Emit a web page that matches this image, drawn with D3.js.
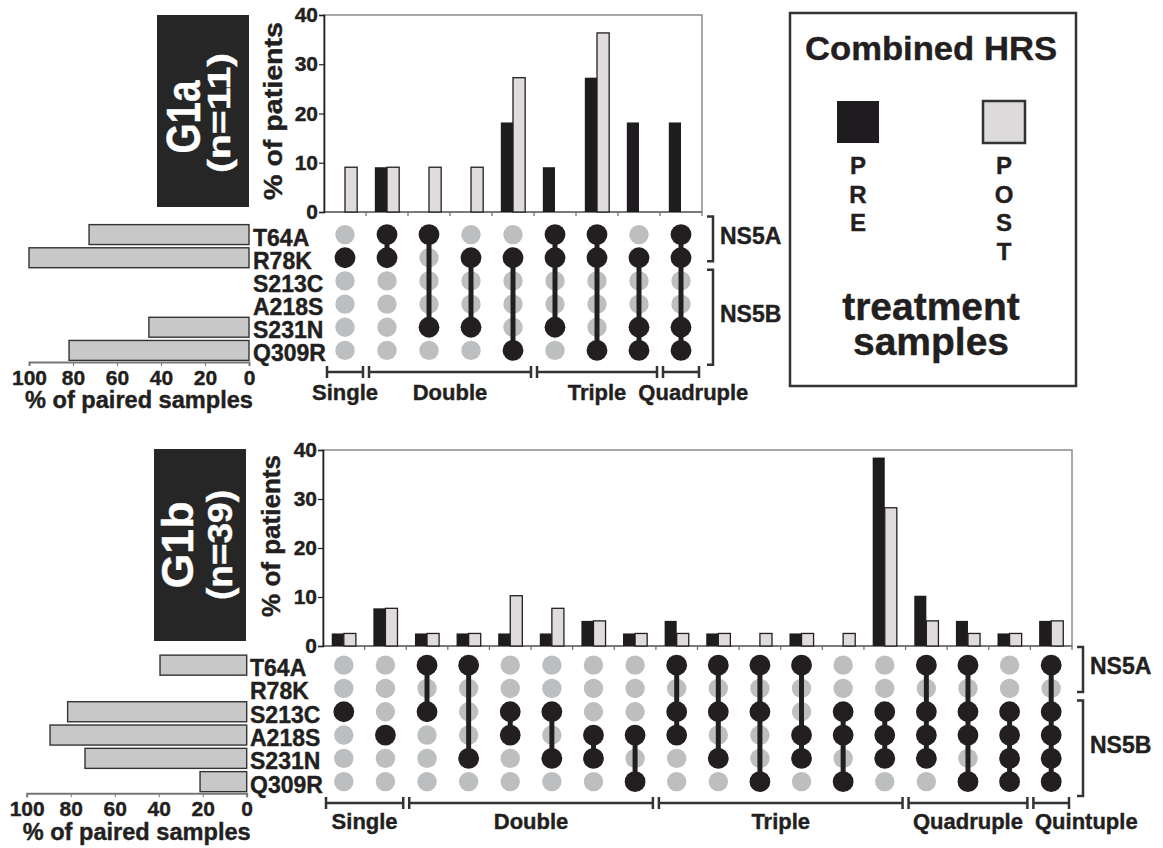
<!DOCTYPE html>
<html>
<head>
<meta charset="utf-8">
<script src="https://cdn.jsdelivr.net/npm/d3@7"></script>
<style>
body { margin: 0; background: #fff; }
text { font-family: "Liberation Sans", Arial, sans-serif; font-weight: bold; fill: #231f20; stroke: #231f20; stroke-width: 0.4px; }
</style>
</head>
<body>
<svg id="chart" width="1163" height="848"></svg>
<script>
// mutations, top to bottom in the matrix
const mutations = ["T64A", "R78K", "S213C", "A218S", "S231N", "Q309R"];
const groupNames = ["Single", "Double", "Triple", "Quadruple", "Quintuple"];
const regions = [
    {name: "NS5A", rows: ["T64A", "R78K"]},
    {name: "NS5B", rows: ["S213C", "A218S", "S231N", "Q309R"]}
];
const yTicks = [0, 10, 20, 30, 40];
const pairedTicks = [0, 20, 40, 60, 80, 100];

// G1a (n=11): % of patients per combination, pre / post treatment
const g1aSets = [
    ["R78K"],
    ["T64A", "R78K"], ["T64A", "S231N"], ["R78K", "S231N"], ["R78K", "Q309R"],
    ["T64A", "R78K", "S231N"], ["T64A", "R78K", "Q309R"], ["R78K", "S231N", "Q309R"],
    ["T64A", "R78K", "S231N", "Q309R"]
];
const g1aPre  = [0, 9.09, 0, 0, 18.18, 9.09, 27.27, 18.18, 18.18];
const g1aPost = [9.09, 9.09, 9.09, 9.09, 27.27, 0, 36.36, 0, 0];
const g1aPaired = [72.7, 100, 0, 0, 45.5, 81.8];

// G1b (n=39)
const g1bSets = [
    ["S213C"], ["A218S"],
    ["T64A", "S213C"], ["T64A", "S231N"], ["S213C", "A218S"], ["S213C", "S231N"], ["A218S", "S231N"], ["A218S", "Q309R"],
    ["T64A", "S213C", "A218S"], ["T64A", "S213C", "S231N"], ["T64A", "S213C", "Q309R"],
    ["T64A", "A218S", "S231N"], ["S213C", "A218S", "Q309R"], ["S213C", "A218S", "S231N"],
    ["T64A", "S213C", "A218S", "S231N"], ["T64A", "S213C", "A218S", "Q309R"], ["S213C", "A218S", "S231N", "Q309R"],
    ["T64A", "S213C", "A218S", "S231N", "Q309R"]
];
const g1bPre  = [2.56, 7.69, 2.56, 2.56, 2.56, 2.56, 5.13, 2.56, 5.13, 2.56, 0, 2.56, 0, 38.46, 10.26, 5.13, 2.56, 5.13];
const g1bPost = [2.56, 7.69, 2.56, 2.56, 10.26, 7.69, 5.13, 2.56, 2.56, 2.56, 2.56, 2.56, 2.56, 28.21, 5.13, 2.56, 2.56, 5.13];
const g1bPaired = [39.4, 0, 81.4, 89.4, 73.5, 21.2];

const dark = "#231f20", postFill = "#e0dcdc", dotGray = "#bdbec0", pairedFill = "#c8c8c8";

const svg = d3.select("#chart");

const panels = [
    {
        title: "G1a", n: "(n=11)", sets: g1aSets, pre: g1aPre, post: g1aPost, paired: g1aPaired,
        plot: {left: 324, right: 702, top: 15, bottom: 212},
        rows: [223, 362], pairedRange: [249, 29], labelX: 253,
        bracketY: 372, groupLabelY: 400, pairedTitleY: 408,
        box: {x: 157, y: 15, w: 92, h: 192},
        titleFont: 49, titleX: 200, titleLen: 73, titleY: 117,
        nFont: 31, nX: 230, nLen: 120, nY: 113,
        yLabelX: 282, yLabelY: 111, yLabelLen: 178
    },
    {
        title: "G1b", n: "(n=39)", sets: g1bSets, pre: g1bPre, post: g1bPost, paired: g1bPaired,
        plot: {left: 323, right: 1072, top: 450, bottom: 646},
        rows: [653.5, 793.3], pairedRange: [246.7, 26.7], labelX: 250,
        bracketY: 803, groupLabelY: 829, pairedTitleY: 840,
        box: {x: 154, y: 449, w: 92, h: 192},
        titleFont: 44, titleX: 193, titleLen: 87, titleY: 545,
        nFont: 35, nX: 232, nLen: 110, nY: 545,
        yLabelX: 280, yLabelY: 536, yLabelLen: 162
    }
];

function drawPanel(p) {
    const g = svg.append("g");
    const cols = d3.range(p.pre.length);
    const x = d3.scaleBand().domain(cols).range([p.plot.left, p.plot.right])
        .paddingInner(0.42).paddingOuter(0.21);
    const xSub = d3.scaleBand().domain(["pre", "post"]).range([0, x.bandwidth()]);
    const y = d3.scaleLinear().domain([0, 40]).range([p.plot.bottom, p.plot.top]);
    const rowY = d3.scaleBand().domain(mutations).range(p.rows);
    const cy = m => rowY(m) + rowY.bandwidth() / 2;
    const cx = i => x(i) + x.bandwidth() / 2;
    const colStart = i => p.plot.left + i * x.step();
    const xp = d3.scaleLinear().domain([0, 100]).range(p.pairedRange);

    // title box
    g.append("rect")
        .attr("x", p.box.x).attr("y", p.box.y)
        .attr("width", p.box.w).attr("height", p.box.h)
        .attr("fill", "#262626");
    g.append("text")
        .attr("transform", `translate(${p.titleX},${p.titleY}) rotate(-90)`)
        .attr("text-anchor", "middle")
        .attr("font-size", p.titleFont)
        .attr("textLength", p.titleLen).attr("lengthAdjust", "spacingAndGlyphs")
        .style("fill", "#fff").style("stroke", "#fff")
        .text(p.title);
    g.append("text")
        .attr("transform", `translate(${p.nX},${p.nY}) rotate(-90)`)
        .attr("text-anchor", "middle")
        .attr("font-size", p.nFont)
        .attr("textLength", p.nLen).attr("lengthAdjust", "spacingAndGlyphs")
        .style("fill", "#fff").style("stroke", "#fff")
        .text(p.n);

    // bar plot frame
    g.append("rect")
        .attr("x", p.plot.left).attr("y", p.plot.top)
        .attr("width", p.plot.right - p.plot.left).attr("height", p.plot.bottom - p.plot.top)
        .attr("fill", "none").attr("stroke", "#8c8c8c").attr("stroke-width", 1.5);
    g.append("line")
        .attr("x1", p.plot.left).attr("x2", p.plot.right)
        .attr("y1", p.plot.bottom).attr("y2", p.plot.bottom)
        .attr("stroke", "#6b6b6b").attr("stroke-width", 1.5);
    g.selectAll(".xtick").data(d3.range(1, cols.length + 1)).join("line")
        .attr("x1", colStart).attr("x2", colStart)
        .attr("y1", p.plot.bottom).attr("y2", p.plot.bottom + 4)
        .attr("stroke", "#6b6b6b").attr("stroke-width", 1.2);

    const yAxis = g.append("g")
        .attr("transform", `translate(${p.plot.left},0)`)
        .call(d3.axisLeft(y).tickValues(yTicks).tickSize(5).tickPadding(1));
    yAxis.select(".domain").attr("stroke", dark).attr("stroke-width", 1.6);
    yAxis.selectAll(".tick line").attr("stroke", dark).attr("stroke-width", 1.2);
    yAxis.selectAll("text").attr("font-size", 21);

    g.append("text")
        .attr("transform", `translate(${p.yLabelX},${p.yLabelY}) rotate(-90)`)
        .attr("text-anchor", "middle")
        .attr("font-size", 25)
        .attr("textLength", p.yLabelLen).attr("lengthAdjust", "spacingAndGlyphs")
        .text("% of patients");

    // bars
    g.selectAll(".pre").data(p.pre.map((v, i) => ({v, i})).filter(d => d.v > 0)).join("rect")
        .attr("class", "pre")
        .attr("x", d => x(d.i) + xSub("pre"))
        .attr("y", d => y(d.v))
        .attr("width", xSub.bandwidth())
        .attr("height", d => y(0) - y(d.v))
        .attr("fill", "#1e1c1f");
    g.selectAll(".post").data(p.post.map((v, i) => ({v, i})).filter(d => d.v > 0)).join("rect")
        .attr("class", "post")
        .attr("x", d => x(d.i) + xSub("post"))
        .attr("y", d => y(d.v))
        .attr("width", xSub.bandwidth())
        .attr("height", d => y(0) - y(d.v))
        .attr("fill", postFill).attr("stroke", dark).attr("stroke-width", 1.3);

    // matrix: background dots, connectors, active dots
    const cells = [];
    p.sets.forEach((s, i) => mutations.forEach(m => cells.push({i, m, on: s.includes(m)})));
    g.selectAll(".off").data(cells.filter(c => !c.on)).join("circle")
        .attr("cx", c => cx(c.i)).attr("cy", c => cy(c.m)).attr("r", 9.7)
        .attr("fill", dotGray);
    g.selectAll(".link").data(p.sets.map((s, i) => ({s, i})).filter(d => d.s.length > 1)).join("line")
        .attr("x1", d => cx(d.i)).attr("x2", d => cx(d.i))
        .attr("y1", d => d3.min(d.s, cy)).attr("y2", d => d3.max(d.s, cy))
        .attr("stroke", dark).attr("stroke-width", 5);
    g.selectAll(".on").data(cells.filter(c => c.on)).join("circle")
        .attr("cx", c => cx(c.i)).attr("cy", c => cy(c.m)).attr("r", 10.4)
        .attr("fill", dark);

    // paired-sample bars on the left
    const barH = rowY.bandwidth() * 0.86;
    g.selectAll(".paired").data(mutations.map((m, k) => ({m, v: p.paired[k]})).filter(d => d.v > 0)).join("rect")
        .attr("x", d => xp(d.v))
        .attr("y", d => cy(d.m) - barH / 2)
        .attr("width", d => xp(0) - xp(d.v))
        .attr("height", barH)
        .attr("fill", pairedFill).attr("stroke", "#333").attr("stroke-width", 1.4);
    const pAxis = g.append("g")
        .attr("transform", `translate(0,${p.rows[1]})`)
        .call(d3.axisBottom(xp).tickValues(pairedTicks).tickSize(4).tickPadding(4));
    pAxis.select(".domain").attr("stroke", "#777").attr("stroke-width", 2);
    pAxis.selectAll(".tick line").attr("stroke", "#777");
    pAxis.selectAll("text").attr("font-size", 21);
    g.append("text")
        .attr("x", xp(50)).attr("y", p.pairedTitleY)
        .attr("text-anchor", "middle").attr("font-size", 23)
        .attr("textLength", 228).attr("lengthAdjust", "spacingAndGlyphs")
        .text("% of paired samples");

    // row labels
    g.selectAll(".rowlab").data(mutations).join("text")
        .attr("x", p.labelX).attr("y", m => cy(m) + 11)
        .attr("font-size", 23)
        .text(m => m);

    // combination-size groups with brackets
    const runs = [];
    p.sets.forEach((s, i) => {
        const last = runs[runs.length - 1];
        if (last && last.size === s.length) last.end = i;
        else runs.push({size: s.length, start: i, end: i});
    });
    let prevEnd = -Infinity;
    runs.forEach(r => {
        const a = colStart(r.start) + 3, b = colStart(r.end + 1) - 3;
        g.append("path")
            .attr("d", `M${a},${p.bracketY - 6}V${p.bracketY + 6}M${a},${p.bracketY}H${b}M${b},${p.bracketY - 6}V${p.bracketY + 6}`)
            .attr("fill", "none").attr("stroke", "#333").attr("stroke-width", 2.5);
        const t = g.append("text")
            .attr("font-size", 22)
            .attr("y", p.groupLabelY)
            .text(groupNames[r.size - 1]);
        const w = t.node().getComputedTextLength();
        const left = Math.max((a + b) / 2 - w / 2, prevEnd + 12);
        t.attr("x", left);
        prevEnd = left + w;
    });

    // gene-region brackets on the right
    const step = rowY.step();
    const bx = p.plot.right + 11;
    regions.forEach((r, k) => {
        const top = cy(r.rows[0]) - (k === 0 ? 0.78 : 0.48) * step;
        const bot = cy(r.rows[r.rows.length - 1]) + (k === 0 ? 0.15 : 0.62) * step;
        g.append("path")
            .attr("d", `M${bx - 6},${top}H${bx}V${bot}H${bx - 6}`)
            .attr("fill", "none").attr("stroke", "#333").attr("stroke-width", 2.5);
        g.append("text")
            .attr("x", bx + 7).attr("y", (top + bot) / 2 + 5)
            .attr("font-size", 23)
            .text(r.name);
    });
}

panels.forEach(drawPanel);

// legend
const legend = svg.append("g");
legend.append("rect")
    .attr("x", 790).attr("y", 13).attr("width", 286).attr("height", 373)
    .attr("fill", "none").attr("stroke", "#333").attr("stroke-width", 2.5);
legend.append("text")
    .attr("x", 931).attr("y", 60).attr("text-anchor", "middle")
    .attr("font-size", 33).attr("textLength", 252).attr("lengthAdjust", "spacingAndGlyphs")
    .text("Combined HRS");
const legendItems = [
    {label: "PRE", fill: "#1e1c1f", stroke: "none", cx: 858},
    {label: "POST", fill: "#dcdada", stroke: "#333", cx: 1004}
];
legendItems.forEach(it => {
    legend.append("rect")
        .attr("x", it.cx - 21).attr("y", 101).attr("width", 42).attr("height", 42)
        .attr("fill", it.fill).attr("stroke", it.stroke).attr("stroke-width", 2.5);
    legend.selectAll(null).data(it.label.split("")).join("text")
        .attr("x", it.cx).attr("y", (d, i) => 174 + i * 28.7)
        .attr("text-anchor", "middle").attr("font-size", 24)
        .text(d => d);
});
legend.append("text")
    .attr("x", 931).attr("y", 320).attr("text-anchor", "middle").attr("font-size", 39)
    .text("treatment");
legend.append("text")
    .attr("x", 931).attr("y", 355).attr("text-anchor", "middle").attr("font-size", 39)
    .text("samples");
</script>
</body>
</html>
